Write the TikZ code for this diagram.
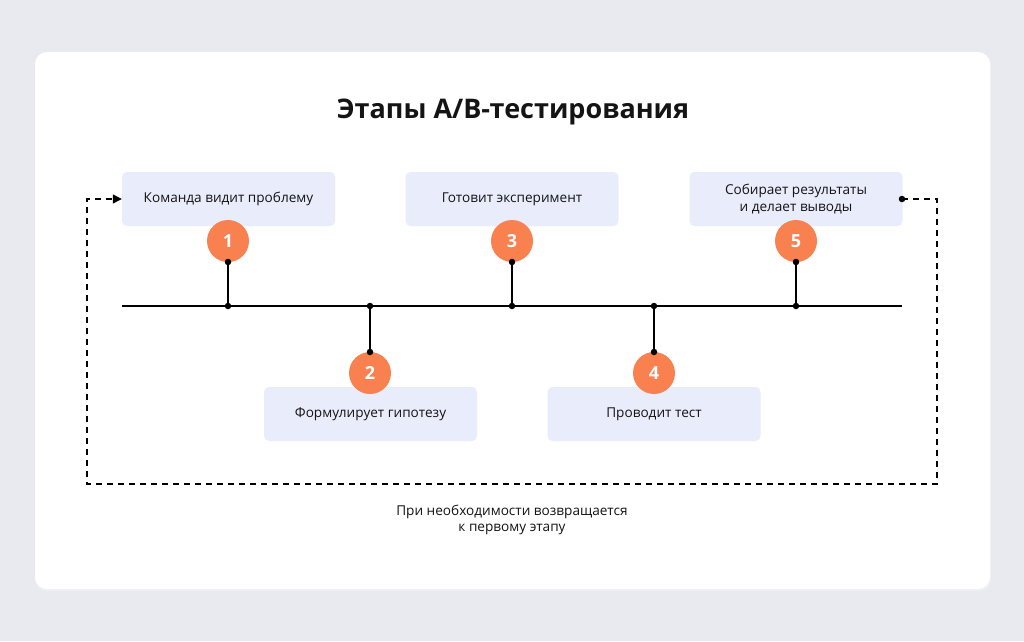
\documentclass[tikz,border=0pt]{standalone}
\usepackage{fontspec}
\setmainfont{Open Sans}
\usetikzlibrary{arrows.meta,calc}
\definecolor{pagebg}{HTML}{E8EAF0}
\definecolor{boxfill}{HTML}{E9ECFB}
\definecolor{orange}{HTML}{F9804F}
\definecolor{ink}{HTML}{141414}
\tikzset{
  stage/.style={fill=boxfill, rounded corners=5pt, minimum width=213pt, minimum height=54pt, inner sep=0pt, font=\fontsize{13.6}{16.5}\selectfont, text=ink, align=center},
  num/.style={circle, fill=orange, minimum size=42pt, inner sep=0pt, text=white, font=\fontsize{18}{20}\selectfont\bfseries},
  dot/.style={circle, fill=black, minimum size=6.5pt, inner sep=0pt},
  link/.style={draw=black, line width=1.2pt},
  loop/.style={draw=black, line width=1.2pt, dash pattern=on 6pt off 5pt},
}
\begin{document}
\begin{tikzpicture}[x=1pt,y=-1pt]
\useasboundingbox (0,0) rectangle (1024,641);
\fill[pagebg] (0,0) rectangle (1024,641);
\fill[black!6, rounded corners=12pt] (35,53) rectangle (991,591);
\fill[white, rounded corners=12pt] (35,52) rectangle (990,589);

\node[font=\fontsize{27}{32}\selectfont\bfseries, text=ink] (title) at (513,112) {Этапы A/B-тестирования};

\node[stage] (b1) at (228.5,199) {Команда видит проблему};
\node[stage] (b3) at (512,199) {Готовит эксперимент};
\node[stage] (b5) at (796,199) {Собирает результаты\\и делает выводы};
\node[stage] (b2) at (370.5,414) {Формулирует гипотезу};
\node[stage] (b4) at (654,414) {Проводит тест};

\coordinate (lstart) at (122,306);
\coordinate (lend) at (902,306);
\draw[link, line width=1.3pt] (lstart) -- (lend);

\node[num] (c1) at (228,241) {1};
\node[num] (c3) at (512,241) {3};
\node[num] (c5) at (796,241) {5};
\node[num] (c2) at (370,373) {2};
\node[num] (c4) at (654,373) {4};

\foreach \c/\x in {c1/228,c3/512,c5/796}{
  \node[dot] (\c top) at (\x,262) {};
  \node[dot] (\c bot) at (\x,306) {};
  \draw[link] (\c top) -- (\c bot);
}
\foreach \c/\x in {c2/370,c4/654}{
  \node[dot] (\c top) at (\x,306) {};
  \node[dot] (\c bot) at (\x,352) {};
  \draw[link] (\c top) -- (\c bot);
}

\node[dot] (rs) at (902,199) {};
\coordinate (r1) at (937,199);
\coordinate (r2) at (937,484);
\coordinate (l2) at (87,484);
\coordinate (l1) at (87,199);
\draw[loop, -{Triangle[length=9pt,width=9pt]}] (rs.center) -- (r1) -- (r2) -- (l2) -- (l1) -- (b1.west);

\node[font=\fontsize{13.6}{16.5}\selectfont, text=ink, align=center] (note) at (512,520) {При необходимости возвращается\\к первому этапу};
\end{tikzpicture}
\end{document}
